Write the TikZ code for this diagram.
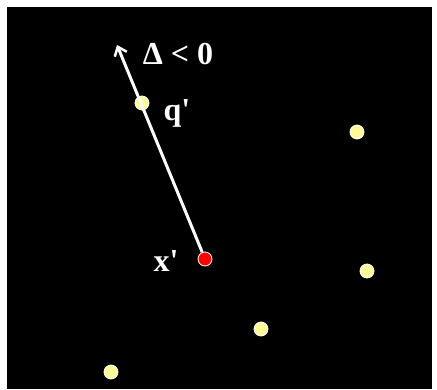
\documentclass[tikz,border=0pt]{standalone}
\usepackage{fontspec}
\setmainfont{Liberation Serif}
\usetikzlibrary{arrows.meta, positioning}

\begin{document}
\begin{tikzpicture}[x=1pt, y=-1pt, >={Straight Barb[length=8pt, width=13pt, line width=2.5pt]},
  pt/.style={circle, draw=white, line width=0.8pt, fill=yellow!40, minimum size=14pt, inner sep=0pt},
  lbl/.style={text=white, font=\fontsize{32}{34}\selectfont\bfseries, inner sep=0pt}]
\useasboundingbox (0,0) rectangle (437,389);
\fill[black] (7,7) rectangle (432,389);
% points
\node[pt] (q) at (142,103) {};
\node[pt] (p1) at (357,132) {};
\node[pt] (p2) at (367,271) {};
\node[pt] (p3) at (261,329) {};
\node[pt] (p4) at (111,372) {};
\node[pt, fill=red] (x) at (205,259) {};
\coordinate (tip) at (117,45);
% direction
\draw[->, white, line width=3pt] (x) -- (tip);
\node[lbl] (delta) at (178,54) {Δ < 0};
\node[lbl] (ql) at (177,113) {q\textquotesingle};
\node[lbl] (xl) at (166,261) {x\textquotesingle};
\end{tikzpicture}
\end{document}
